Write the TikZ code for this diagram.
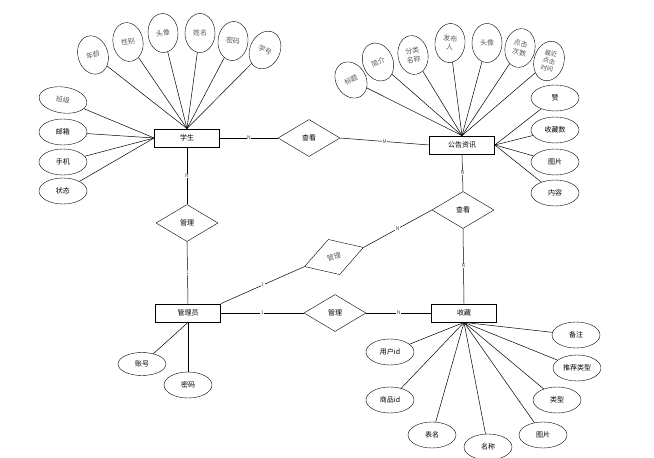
\documentclass[tikz,border=0pt]{standalone}
\usepackage{fontspec}
\setmainfont{Noto Sans CJK SC}
\usetikzlibrary{shapes.geometric}
\begin{document}
\begin{tikzpicture}[x=1pt,y=-1pt,
  ent/.style={draw, thick, rectangle, minimum width=65pt, minimum height=18pt, inner sep=0pt, font=\fontsize{7}{8}\selectfont},
  rel/.style={draw, diamond, minimum width=62pt, minimum height=37pt, inner sep=0pt, font=\fontsize{7}{8}\selectfont},
  attr/.style={draw, ellipse, minimum width=48pt, minimum height=26pt, inner sep=0pt, font=\fontsize{7}{8}\selectfont},
  vattr/.style={draw, ellipse, minimum width=30pt, minimum height=39pt, inner sep=0pt, text=black!65, align=center, font=\fontsize{7}{9}\selectfont},
  card/.style={fill=white, inner sep=0.5pt, text=black!70, font=\fontsize{5}{5}\selectfont},
  conn/.style={draw, line width=0.5pt}
]
\useasboundingbox (0,0) rectangle (654,458);

% entities
\node[ent] (xs) at (187,138) {学生};
\node[ent] (gg) at (462,145) {公告资讯};
\node[ent] (gly) at (188,313) {管理员};
\node[ent] (sc) at (464,313) {收藏};

% relationships
\node[rel] (ck1) at (309,138) {查看};
\node[rel] (ck2) at (463,210) {查看};
\node[rel] (gl1) at (187,223) {管理};
\node[rel] (gl2) at (335,313) {管理};
\node[rel, rotate=18, text=black!65] (gl3) at (334,257) {管理};

% student attributes (top)
\node[vattr, rotate=17] (a1) at (93,55) {年龄};
\node[vattr, rotate=10] (a2) at (128,42) {性别};
\node[vattr, rotate=3] (a3) at (163,33) {头像};
\node[vattr] (a4) at (200,33) {姓名};
\node[vattr, rotate=-6] (a5) at (233,41) {密码};
\node[vattr, rotate=-25] (a6) at (265,50) {学号};
\foreach \n in {a1,a2,a3,a4,a5,a6} \draw[conn] (\n) -- (xs.north);

% student attributes (left)
\node[attr, rotate=-8, text=black!65] (b1) at (63,100) {班级};
\node[attr] (b2) at (63,132) {邮箱};
\node[attr] (b3) at (63,162) {手机};
\node[attr] (b4) at (63,191) {状态};
\foreach \n in {b1,b2,b3,b4} \draw[conn] (\n) -- (xs.west);

% notice attributes (top)
\node[vattr, rotate=30, minimum height=38pt] (c1) at (351,80) {标题};
\node[vattr, rotate=22] (c2) at (378,62) {简介};
\node[vattr, rotate=10] (c3) at (413,55) {分类\\名称};
\node[vattr, rotate=-5] (c4) at (450,43) {发布\\人};
\node[vattr] (c5) at (487,43) {头像};
\node[vattr, rotate=-10] (c6) at (520,48) {点击\\次数};
\node[vattr, rotate=-15, minimum height=40pt, font=\fontsize{6.3}{7.6}\selectfont] (c7) at (549,61) {最近\\点击\\时间};
\foreach \n in {c1,c2,c3,c4,c5,c6,c7} \draw[conn] (\n) -- (gg.north);

% notice attributes (right)
\node[attr] (d1) at (555,98) {赞};
\node[attr] (d2) at (555,130) {收藏数};
\node[attr] (d3) at (555,162) {图片};
\node[attr] (d4) at (555,193) {内容};
\foreach \n in {d1,d2,d3,d4} \draw[conn] (\n) -- (gg.east);

% admin attributes
\node[attr, minimum height=23pt] (e1) at (142,364) {账号};
\node[attr] (e2) at (188,385) {密码};
\foreach \n in {e1,e2} \draw[conn] (\n) -- (gly.south);

% collection attributes
\node[attr] (f1) at (390,352) {用户id};
\node[attr] (f2) at (390,400) {商品id};
\node[attr] (f3) at (432,435) {表名};
\node[attr] (f4) at (488,447) {名称};
\node[attr] (f5) at (543,435) {图片};
\node[attr] (f6) at (557,400) {类型};
\node[attr] (f7) at (577,368) {推荐类型};
\node[attr] (f8) at (576,335) {备注};
\foreach \n in {f1,f2,f3,f4,f5,f6,f7,f8} \draw[conn] (\n) -- (sc.south);

% relationship connectors
\draw[conn] (xs.east) -- node[card]{N} (ck1.west);
\draw[conn] (ck1.east) -- node[card]{M} (gg.west);
\draw[conn] (xs.south) -- node[card]{N} (gl1.north);
\draw[conn] (gl1.south) -- node[card]{1} (gly.north);
\draw[conn] (gly.north east) -- node[card]{1} (gl3.west);
\draw[conn] (gl3.east) -- node[card]{N} (ck2.west);
\draw[conn] (gg.south) -- node[card]{N} (ck2.north);
\draw[conn] (ck2.south) -- node[card]{N} (sc.north);
\draw[conn] (gly.east) -- node[card]{1} (gl2.west);
\draw[conn] (gl2.east) -- node[card]{N} (sc.west);
\end{tikzpicture}
\end{document}
